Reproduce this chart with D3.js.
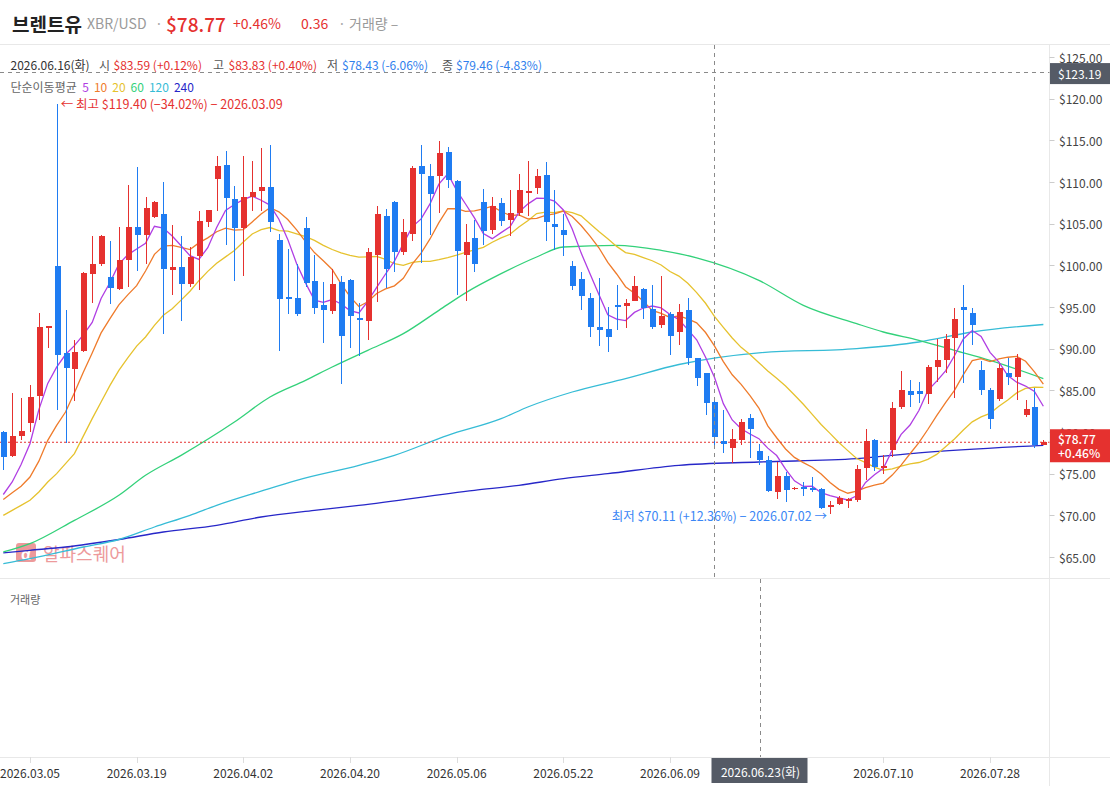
<!DOCTYPE html>
<html><head><meta charset="utf-8">
<script src="https://cdn.jsdelivr.net/npm/d3@7"></script>
<style>
body{margin:0;background:#fff;}
svg{display:block;font-family:'Noto Sans CJK KR','Noto Sans',sans-serif;}
</style></head>
<body><svg id="c" width="1110" height="786"></svg>
<script>
// ---- data ----
const opens  = [80.00,77.16,79.56,81.04,84.36,92.48,99.96,89.44,87.60,89.76,99.00,100.12,98.56,97.16,100.68,104.60,103.68,105.80,106.16,99.48,99.80,97.80,101.12,105.24,110.40,112.04,107.96,104.52,108.20,108.96,109.40,103.04,96.20,96.08,104.48,98.12,95.24,94.56,98.00,98.24,93.68,93.36,101.24,105.92,107.60,101.64,103.80,111.92,110.72,110.72,113.60,110.12,101.24,103.28,107.60,104.28,107.48,105.48,106.32,108.80,109.32,110.84,104.92,104.24,99.92,98.36,96.08,92.60,92.36,95.28,95.16,95.76,97.16,94.76,92.88,94.12,92.00,94.64,88.88,87.08,83.59,78.92,78.12,79.08,81.68,77.68,76.64,72.80,74.72,73.20,73.40,73.28,73.16,71.00,71.36,71.72,71.84,75.72,79.04,75.72,77.88,83.04,84.92,84.92,84.60,87.84,88.68,91.32,95.00,94.28,87.44,85.04,84.00,87.08,86.64,82.08,83.00,78.50];
const highs  = [80.10,84.64,84.12,85.64,94.32,92.68,119.40,94.64,91.04,99.16,103.56,103.64,102.92,104.64,109.64,111.80,108.20,107.72,110.00,104.84,103.52,102.20,106.52,106.64,113.12,113.72,109.52,113.12,112.52,114.08,114.44,103.72,101.96,100.16,105.80,101.24,98.00,99.56,98.72,98.40,95.52,102.08,107.12,106.76,107.76,105.56,111.96,114.44,112.20,114.92,114.20,110.24,104.96,105.44,109.16,108.20,108.08,109.04,110.96,112.52,111.56,112.40,109.04,106.16,100.52,99.20,96.68,98.48,95.00,97.64,95.96,98.72,97.28,97.64,98.72,94.36,95.36,96.08,88.88,87.08,83.83,82.64,80.36,81.56,82.16,78.56,77.12,76.40,75.20,73.40,74.00,74.60,73.28,71.72,72.32,72.08,76.04,80.36,79.16,77.24,83.60,87.32,86.24,86.00,88.04,91.16,91.76,94.88,97.64,94.88,88.52,85.28,88.16,88.88,89.36,83.84,85.28,79.00];
const lows   = [75.44,76.96,79.04,79.96,81.44,90.04,82.64,78.72,83.76,89.56,95.52,99.96,95.36,97.04,97.40,99.36,100.16,105.72,91.72,96.48,93.36,97.44,97.04,104.64,106.52,102.44,98.12,98.76,106.52,106.52,104.00,89.76,94.16,93.96,97.44,94.20,90.72,94.20,85.80,90.08,89.16,91.08,95.64,97.32,99.24,101.28,102.96,100.32,103.64,106.32,109.28,96.44,95.72,99.24,102.48,103.80,104.76,103.56,105.96,105.96,108.56,102.96,101.88,101.16,97.08,94.68,91.44,90.36,89.64,92.28,92.52,95.76,93.60,92.40,92.52,89.28,90.48,88.08,85.56,82.08,78.43,77.52,76.28,78.48,76.92,76.04,72.80,71.96,71.64,73.10,72.32,72.80,70.76,70.11,71.24,70.88,71.60,74.24,75.36,75.00,77.04,82.80,83.04,83.52,83.40,86.04,87.12,84.12,85.92,90.48,84.48,80.40,83.76,85.68,83.88,81.84,78.12,78.45];
const closes = [76.96,79.52,80.12,84.24,92.60,92.68,89.24,87.72,89.60,99.04,100.16,103.56,97.32,100.64,104.60,103.68,106.92,107.60,99.60,99.80,97.80,101.00,105.32,106.64,111.92,108.12,104.52,108.20,108.80,109.40,105.24,96.00,96.12,94.20,97.92,94.92,94.68,97.76,91.56,93.96,93.48,101.60,106.16,99.60,101.64,104.00,111.68,110.96,108.56,113.48,110.24,101.72,102.80,100.20,104.16,107.12,105.36,106.28,109.04,108.92,110.72,105.24,104.64,103.68,97.56,96.36,92.64,92.28,91.44,95.04,95.48,97.52,94.92,92.64,93.92,91.56,94.40,88.92,86.52,83.49,79.46,78.60,79.16,81.20,80.40,76.64,72.92,74.72,73.08,73.32,73.28,73.04,70.88,71.24,72.08,71.96,75.56,78.92,75.84,75.92,82.88,85.04,84.48,84.60,87.80,88.64,91.16,93.56,94.68,92.88,85.08,81.60,87.68,86.64,88.88,82.76,78.41,78.77];

// moving-average values read where the window reaches before the first candle
const ma5Lead  = [72.5,74.0,76.1,78.6];
const ma10Lead = [71.9,72.7,73.5,74.6,76.5,79.0,80.8,82.4,84.7];
const ma20Lead = [70.0,70.6,71.2,71.8,72.8,74.0,75.0,76.2,77.4,79.5,81.6,83.6,85.6,87.4,88.9,90.3,91.4,92.8,94.0];
// long averages at candle indices
const ma60Idx  = [0,3,8,13,16,20,26,30,34,37,41,45,49,52,56,60,63,69,74,78,85,90,96,99,103,107,111,117];
const ma60Val  = [65.6,66.6,69.4,72.4,74.8,77.2,81.2,84.2,86.2,87.8,89.8,91.8,94.6,96.7,99.0,101.0,102.2,102.4,101.8,100.9,98.2,95.2,93.0,92.0,91.0,89.8,88.6,86.4];
const ma120Idx = [0,3,9,13,17,21,24,29,33,40,44,50,56,59,64,70,76,85,96,103,109,117];
const ma120Val = [64.2,64.8,66.2,67.1,68.6,70.0,71.2,72.9,74.2,76.0,77.2,79.6,81.6,83.0,84.8,86.4,88.1,89.5,90.0,90.8,92.0,92.9];
const ma240Idx = [0,3,7,13,18,24,29,35,40,53,58,63,68,76,85,96,103,117];
const ma240Val = [65.5,65.8,66.2,67.1,68.0,68.8,69.8,70.6,71.2,73.0,73.6,74.4,75.0,76.0,76.4,76.8,77.5,78.4];

const xTickIdx    = [3,15,27,39,51,63,75,99,111];
const xTickLabels = ['2026.03.05','2026.03.19','2026.04.02','2026.04.20','2026.05.06','2026.05.22','2026.06.09','2026.07.10','2026.07.28'];
const yTicks      = [65,70,75,80,85,90,95,100,105,110,115,120,125];

const maPeriods = [5,10,20,60,120,240];
const maColors  = ['#b03ee3','#ef7b2b','#e6c22e','#33d17a','#36bcd6','#2727c8'];

const lastPrice = 78.77, lastPct = '+0.46%';
const crossPrice = 123.19, crossIdx = 80, crossIdx2 = 85, crossLabel2 = '2026.06.23(화)';
const highIdx = 6, lowIdx = 93;

// ---- drawing ----
const RED = '#e5312f', BLUE = '#1f7cf2';
const svg = d3.select('#c');
const W = 1110, H = 786, plotR = 1049.5;
const idx = d3.range(closes.length);
const x = d3.scaleBand().domain(idx).range([-1.14, 1047.8]).paddingInner(0.32).paddingOuter(0.16);
const xc = i => x(i) + x.bandwidth() / 2;
const y = d3.scaleLinear().domain([65, 125]).range([557, 57]);

// frame lines
const gl = svg.append('g').attr('stroke', '#e8e8e8').attr('shape-rendering', 'crispEdges');
gl.append('line').attr('x1', 0).attr('x2', W).attr('y1', 44.5).attr('y2', 44.5);
gl.append('line').attr('x1', 0).attr('x2', W).attr('y1', 578.5).attr('y2', 578.5);
gl.append('line').attr('x1', 0).attr('x2', W).attr('y1', 757.5).attr('y2', 757.5);
gl.append('line').attr('x1', plotR).attr('x2', plotR).attr('y1', 44).attr('y2', H);

// header
const hd = svg.append('g').attr('dominant-baseline', 'central');
hd.append('text').attr('x', 12).attr('y', 23).attr('font-size', 19).attr('font-weight', 700).attr('fill', '#222').text('브렌트유');
hd.append('text').attr('x', 87).attr('y', 23).attr('font-size', 14).attr('fill', '#9a9a9a').text('XBR/USD');
hd.append('text').attr('x', 155).attr('y', 23).attr('font-size', 14).attr('fill', '#aaa').text('·');
hd.append('text').attr('x', 166).attr('y', 23).attr('font-size', 19).attr('font-weight', 500).attr('fill', RED).text('$' + lastPrice.toFixed(2));
hd.append('text').attr('x', 233).attr('y', 23).attr('font-size', 14).attr('fill', RED).text(lastPct);
hd.append('text').attr('x', 301).attr('y', 23).attr('font-size', 14).attr('fill', RED).text('0.36');
hd.append('text').attr('x', 338).attr('y', 23).attr('font-size', 14).attr('fill', '#aaa').text('·');
hd.append('text').attr('x', 349).attr('y', 23).attr('font-size', 14).attr('fill', '#9a9a9a').text('거래량 –');

// info line
const info = [
  [10.5, '2026.06.16(화)', '#333'], [99, '시', '#555'], [113.5, '$83.59 (+0.12%)', RED],
  [213, '고', '#555'], [228.5, '$83.83 (+0.40%)', RED], [327, '저', '#555'],
  [342, '$78.43 (-6.06%)', '#2f80ed'], [442, '종', '#555'], [456, '$79.46 (-4.83%)', '#2f80ed']
];
svg.append('g').attr('font-size', 12).attr('dominant-baseline', 'central')
  .selectAll('text').data(info).join('text')
  .attr('x', d => d[0]).attr('y', 64).attr('fill', d => d[2]).text(d => d[1]);

// MA legend (flowed)
const lg = svg.append('g').attr('font-size', 12).attr('dominant-baseline', 'central');
const lgT = lg.append('text').attr('x', 10.5).attr('y', 86).attr('fill', '#666').text('단순이동평균');
let lx = 10.5 + lgT.node().getComputedTextLength() + 5.5;
maPeriods.forEach((p, k) => {
  const t = lg.append('text').attr('x', lx).attr('y', 86).attr('fill', maColors[k]).text(p);
  lx += t.node().getComputedTextLength() + 5;
});

// y axis
const ya = svg.append('g');
yTicks.forEach(v => {
  ya.append('line').attr('x1', plotR).attr('x2', plotR + 5).attr('y1', Math.round(y(v)) + 0.5).attr('y2', Math.round(y(v)) + 0.5).attr('stroke', '#ccc');
  ya.append('text').attr('x', 1059).attr('y', y(v)).attr('dominant-baseline', 'central').attr('font-size', 12).attr('fill', '#444').text('$' + v.toFixed(2));
});

// x axis
const xa = svg.append('g');
xTickIdx.forEach((i, k) => {
  xa.append('line').attr('x1', Math.round(xc(i)) + 0.5).attr('x2', Math.round(xc(i)) + 0.5).attr('y1', 757).attr('y2', 763).attr('stroke', '#ddd');
  xa.append('text').attr('x', xc(i)).attr('y', 772).attr('text-anchor', 'middle').attr('dominant-baseline', 'central').attr('font-size', 12).attr('fill', '#333').text(xTickLabels[k]);
});

// volume label
svg.append('text').attr('x', 10).attr('y', 599).attr('dominant-baseline', 'central').attr('font-size', 11).attr('fill', '#666').text('거래량');

// watermark
const wm = svg.append('g').attr('opacity', 0.55);
wm.append('rect').attr('x', 16).attr('y', 543).attr('width', 20).attr('height', 19).attr('rx', 3).attr('fill', '#e0484a');
wm.append('text').attr('x', 26).attr('y', 553).attr('text-anchor', 'middle').attr('dominant-baseline', 'central').attr('font-size', 15).attr('font-weight', 700).attr('fill', '#fff').text('α');
wm.append('text').attr('x', 43).attr('y', 553).attr('dominant-baseline', 'central').attr('font-size', 18).attr('fill', '#e0484a').text('알파스퀘어');

// moving averages
function sma(n, lead) {
  return idx.map(i => {
    if (i < n - 1) return lead[i];
    return d3.mean(closes.slice(i - n + 1, i + 1));
  });
}
const maShort = [sma(5, ma5Lead), sma(10, ma10Lead), sma(20, ma20Lead)];
const lineGen = d3.line().x(d => xc(d[0])).y(d => y(d[1]));
const smoothGen = d3.line().x(d => xc(d[0])).y(d => y(d[1])).curve(d3.curveMonotoneX);
const maSeries = [
  maShort[0].map((v, i) => [i, v]),
  maShort[1].map((v, i) => [i, v]),
  maShort[2].map((v, i) => [i, v]),
  ma60Idx.map((i, k) => [i, ma60Val[k]]),
  ma120Idx.map((i, k) => [i, ma120Val[k]]),
  ma240Idx.map((i, k) => [i, ma240Val[k]])
];
const maG = svg.append('g').attr('fill', 'none').attr('stroke-width', 1.3);
[5, 4, 3, 2, 1, 0].forEach(k => {
  maG.append('path').attr('d', (k >= 3 ? smoothGen : lineGen)(maSeries[k])).attr('stroke', maColors[k]);
});

// last price dotted line
svg.append('line').attr('x1', 0).attr('x2', plotR).attr('y1', y(lastPrice)).attr('y2', y(lastPrice))
  .attr('stroke', RED).attr('stroke-width', 1).attr('stroke-dasharray', '2,2');

// candles
const cg = svg.append('g').attr('shape-rendering', 'crispEdges');
const col = i => closes[i] >= opens[i] ? RED : BLUE;
cg.selectAll('line').data(idx).join('line')
  .attr('x1', i => Math.round(xc(i)) + 0.5).attr('x2', i => Math.round(xc(i)) + 0.5)
  .attr('y1', i => y(highs[i])).attr('y2', i => y(lows[i]))
  .attr('stroke', col).attr('stroke-width', 1);
cg.selectAll('rect').data(idx).join('rect')
  .attr('x', i => Math.round(xc(i)) - 2.5).attr('width', 6)
  .attr('y', i => y(Math.max(opens[i], closes[i])))
  .attr('height', i => Math.max(1.5, Math.abs(y(opens[i]) - y(closes[i]))))
  .attr('fill', col);

// high / low annotations
svg.append('text').attr('x', xc(highIdx) + 4).attr('y', y(highs[highIdx])).attr('dominant-baseline', 'central')
  .attr('font-size', 12.5).attr('fill', RED)
  .text('← 최고 $' + highs[highIdx].toFixed(2) + ' (−34.02%) − 2026.03.09');
svg.append('text').attr('x', xc(lowIdx) - 3).attr('y', y(lows[lowIdx]) + 1).attr('dominant-baseline', 'central')
  .attr('text-anchor', 'end').attr('font-size', 12.5).attr('fill', '#3a86f5')
  .text('최저 $' + lows[lowIdx].toFixed(2) + ' (+12.36%) − 2026.07.02 →');

// crosshair
const ch = svg.append('g').attr('stroke', '#8a8a8a').attr('stroke-dasharray', '4,4').attr('stroke-width', 1);
ch.append('line').attr('x1', 0).attr('x2', plotR).attr('y1', Math.round(y(crossPrice)) + 0.5).attr('y2', Math.round(y(crossPrice)) + 0.5);
ch.append('line').attr('x1', Math.round(xc(crossIdx)) + 0.5).attr('x2', Math.round(xc(crossIdx)) + 0.5).attr('y1', 45).attr('y2', 578);
ch.append('line').attr('x1', Math.round(xc(crossIdx2)) + 1.5).attr('x2', Math.round(xc(crossIdx2)) + 1.5).attr('y1', 579).attr('y2', 757);

// price labels on axis
const cy = y(crossPrice);
svg.append('rect').attr('x', 1050).attr('y', cy - 9).attr('width', 60).attr('height', 21).attr('fill', '#555b66');
svg.append('text').attr('x', 1058).attr('y', cy + 1.5).attr('dominant-baseline', 'central').attr('font-size', 12).attr('fill', '#fff').text('$' + crossPrice.toFixed(2));

const ly = y(lastPrice);
svg.append('rect').attr('x', 1050).attr('y', ly - 13).attr('width', 60).attr('height', 33).attr('fill', RED);
svg.append('text').attr('x', 1058).attr('y', ly - 4).attr('dominant-baseline', 'central').attr('font-size', 12).attr('font-weight', 500).attr('fill', '#fff').text('$' + lastPrice.toFixed(2));
svg.append('text').attr('x', 1058).attr('y', ly + 10).attr('dominant-baseline', 'central').attr('font-size', 12).attr('font-weight', 500).attr('fill', '#fff').text(lastPct);

// date label on bottom axis
const dx = Math.round(xc(crossIdx2)) + 1.5;
svg.append('rect').attr('x', dx - 49).attr('y', 758).attr('width', 96).attr('height', 25).attr('fill', '#555b66');
svg.append('text').attr('x', dx).attr('y', 771).attr('text-anchor', 'middle').attr('dominant-baseline', 'central').attr('font-size', 12).attr('fill', '#fff').text(crossLabel2);
</script>
</body></html>
